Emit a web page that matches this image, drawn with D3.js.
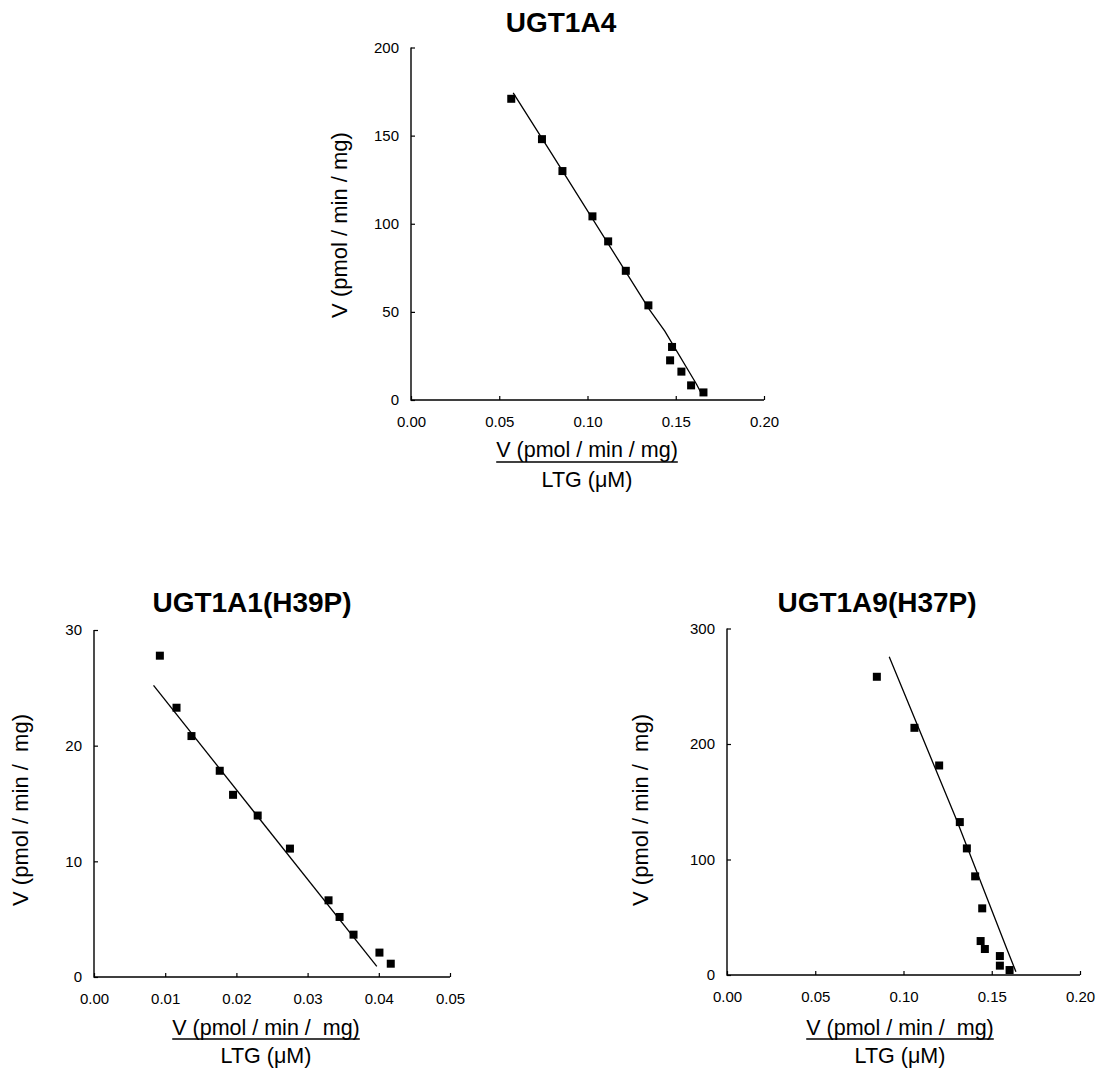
<!DOCTYPE html>
<html>
<head>
<meta charset="utf-8">
<script src="https://cdn.jsdelivr.net/npm/d3@7"></script>
<style>
  body { margin: 0; background: #fff; }
  text { font-family: Arial, "Liberation Sans", sans-serif; fill: #000; }
</style>
</head>
<body>
<svg id="chart" width="1102" height="1072"></svg>
<script>
// ---- data ----
// UGT1A4
var a4X = [0.0568, 0.0742, 0.0858, 0.1028, 0.1117, 0.1217, 0.1345, 0.1479, 0.1468, 0.1532, 0.1587, 0.1657];
var a4V = [170.9, 148.0, 129.9, 104.2, 90.0, 73.3, 53.7, 30.1, 22.5, 16.1, 8.3, 4.3];
var a4FitX = [0.0579, 0.0796, 0.1353, 0.1438, 0.1617, 0.1640];
var a4FitV = [174.3, 139.9, 51.0, 39.1, 9.1, 4.7];

// UGT1A1(H39P)
var a1X = [0.00925, 0.01159, 0.01369, 0.01766, 0.01953, 0.02299, 0.02752, 0.03294, 0.03449, 0.03645, 0.04009, 0.04168];
var a1V = [27.78, 23.28, 20.83, 17.83, 15.75, 13.96, 11.10, 6.63, 5.19, 3.66, 2.11, 1.15];
var a1FitX = [0.00836, 0.03972];
var a1FitV = [25.21, 0.92];

// UGT1A9(H37P)
var a9X = [0.0849, 0.1062, 0.1202, 0.1319, 0.1359, 0.1406, 0.1446, 0.1437, 0.1461, 0.1546, 0.1546, 0.1601];
var a9V = [258.2, 214.0, 181.4, 132.4, 109.6, 85.4, 57.7, 29.4, 22.5, 16.4, 8.1, 4.3];
var a9FitX = [0.0919, 0.1301, 0.1584, 0.1637];
var a9FitV = [275.5, 134.1, 23.1, 2.9];

var titles = ["UGT1A4", "UGT1A1(H39P)", "UGT1A9(H37P)"];
var yLabels = ["V (pmol / min / mg)", "V (pmol / min /  mg)", "V (pmol / min /  mg)"];
var xNumer = ["V (pmol / min / mg)", "V (pmol / min /  mg)", "V (pmol / min /  mg)"];
var xDenom = "LTG (\u03BCM)";
var xTicks = [[0, 0.05, 0.10, 0.15, 0.20], [0, 0.01, 0.02, 0.03, 0.04, 0.05], [0, 0.05, 0.10, 0.15, 0.20]];
var yTicks = [[0, 50, 100, 150, 200], [0, 10, 20, 30], [0, 100, 200, 300]];
var xMax = [0.20, 0.05, 0.20];
var yMax = [200, 30, 300];

// ---- layout ----
var panels = [
  { left: 411, right: 764, top: 47.5, bottom: 400, titleX: 561, titleY: 32, yLabX: 347, yLabY: 225,
    numY: 457, lineY: 462, denY: 487, numX: 587,
    xs: a4X, ys: a4V, fx: a4FitX, fy: a4FitV },
  { left: 94, right: 450, top: 630, bottom: 977, titleX: 252, titleY: 612, yLabX: 28, yLabY: 810,
    numY: 1035, lineY: 1039, denY: 1063, numX: 266,
    xs: a1X, ys: a1V, fx: a1FitX, fy: a1FitV },
  { left: 727, right: 1080, top: 628.5, bottom: 975, titleX: 877, titleY: 612, yLabX: 648, yLabY: 810,
    numY: 1035, lineY: 1039, denY: 1063, numX: 900,
    xs: a9X, ys: a9V, fx: a9FitX, fy: a9FitV }
];

var svg = d3.select("#chart");

panels.forEach(function(p, i) {
  var x = d3.scaleLinear().domain([0, xMax[i]]).range([p.left, p.right]);
  var y = d3.scaleLinear().domain([0, yMax[i]]).range([p.bottom, p.top]);
  var g = svg.append("g");

  // title
  g.append("text")
    .attr("x", p.titleX).attr("y", p.titleY)
    .attr("text-anchor", "middle")
    .style("font-size", "28px").style("font-weight", "bold")
    .text(titles[i]);

  // axes, ticks inside
  var xAxis = d3.axisTop(x).tickValues(xTicks[i]).tickSize(4).tickFormat(d3.format(".2f"));
  var gx = g.append("g").attr("transform", "translate(0," + p.bottom + ")").call(xAxis);
  gx.selectAll("text").attr("y", 27).attr("dy", 0).style("font-size", "15px").attr("fill", "#000");

  var yAxis = d3.axisRight(y).tickValues(yTicks[i]).tickSize(4).tickFormat(d3.format("d"));
  var gy = g.append("g").attr("transform", "translate(" + p.left + ",0)").call(yAxis);
  gy.selectAll("text").attr("x", -12).attr("text-anchor", "end").style("font-size", "15px").attr("fill", "#000");

  g.selectAll(".domain").remove();
  g.selectAll(".tick line").attr("stroke", "#000").attr("stroke-width", 1.2);
  g.append("path")
    .attr("d", "M" + p.left + "," + p.top + "V" + p.bottom + "H" + p.right)
    .attr("fill", "none").attr("stroke", "#000").attr("stroke-width", 1.4);

  // y label
  g.append("text")
    .attr("transform", "translate(" + p.yLabX + "," + p.yLabY + ") rotate(-90)")
    .attr("text-anchor", "middle")
    .style("font-size", "22px").style("white-space", "pre")
    .text(yLabels[i]);

  // x label as a fraction
  var num = g.append("text")
    .attr("x", p.numX).attr("y", p.numY)
    .attr("text-anchor", "middle")
    .style("font-size", "21.5px").style("white-space", "pre")
    .text(xNumer[i]);
  var w = num.node().getComputedTextLength();
  g.append("line")
    .attr("x1", p.numX - w / 2).attr("x2", p.numX + w / 2)
    .attr("y1", p.lineY).attr("y2", p.lineY)
    .attr("stroke", "#000").attr("stroke-width", 1.5);
  g.append("text")
    .attr("x", p.numX).attr("y", p.denY)
    .attr("text-anchor", "middle")
    .style("font-size", "21.5px")
    .text(xDenom);

  // fitted line
  var fit = d3.range(p.fx.length).map(function(k) { return [p.fx[k], p.fy[k]]; });
  g.append("path")
    .datum(fit)
    .attr("fill", "none").attr("stroke", "#000").attr("stroke-width", 1.3)
    .attr("d", d3.line().x(function(d) { return x(d[0]); }).y(function(d) { return y(d[1]); }));

  // points
  var pts = d3.range(p.xs.length).map(function(k) { return [p.xs[k], p.ys[k]]; });
  g.selectAll("rect.pt").data(pts).enter().append("rect")
    .attr("class", "pt")
    .attr("x", function(d) { return x(d[0]) - 4; })
    .attr("y", function(d) { return y(d[1]) - 4; })
    .attr("width", 8).attr("height", 8)
    .attr("fill", "#000");
});
</script>
</body>
</html>
